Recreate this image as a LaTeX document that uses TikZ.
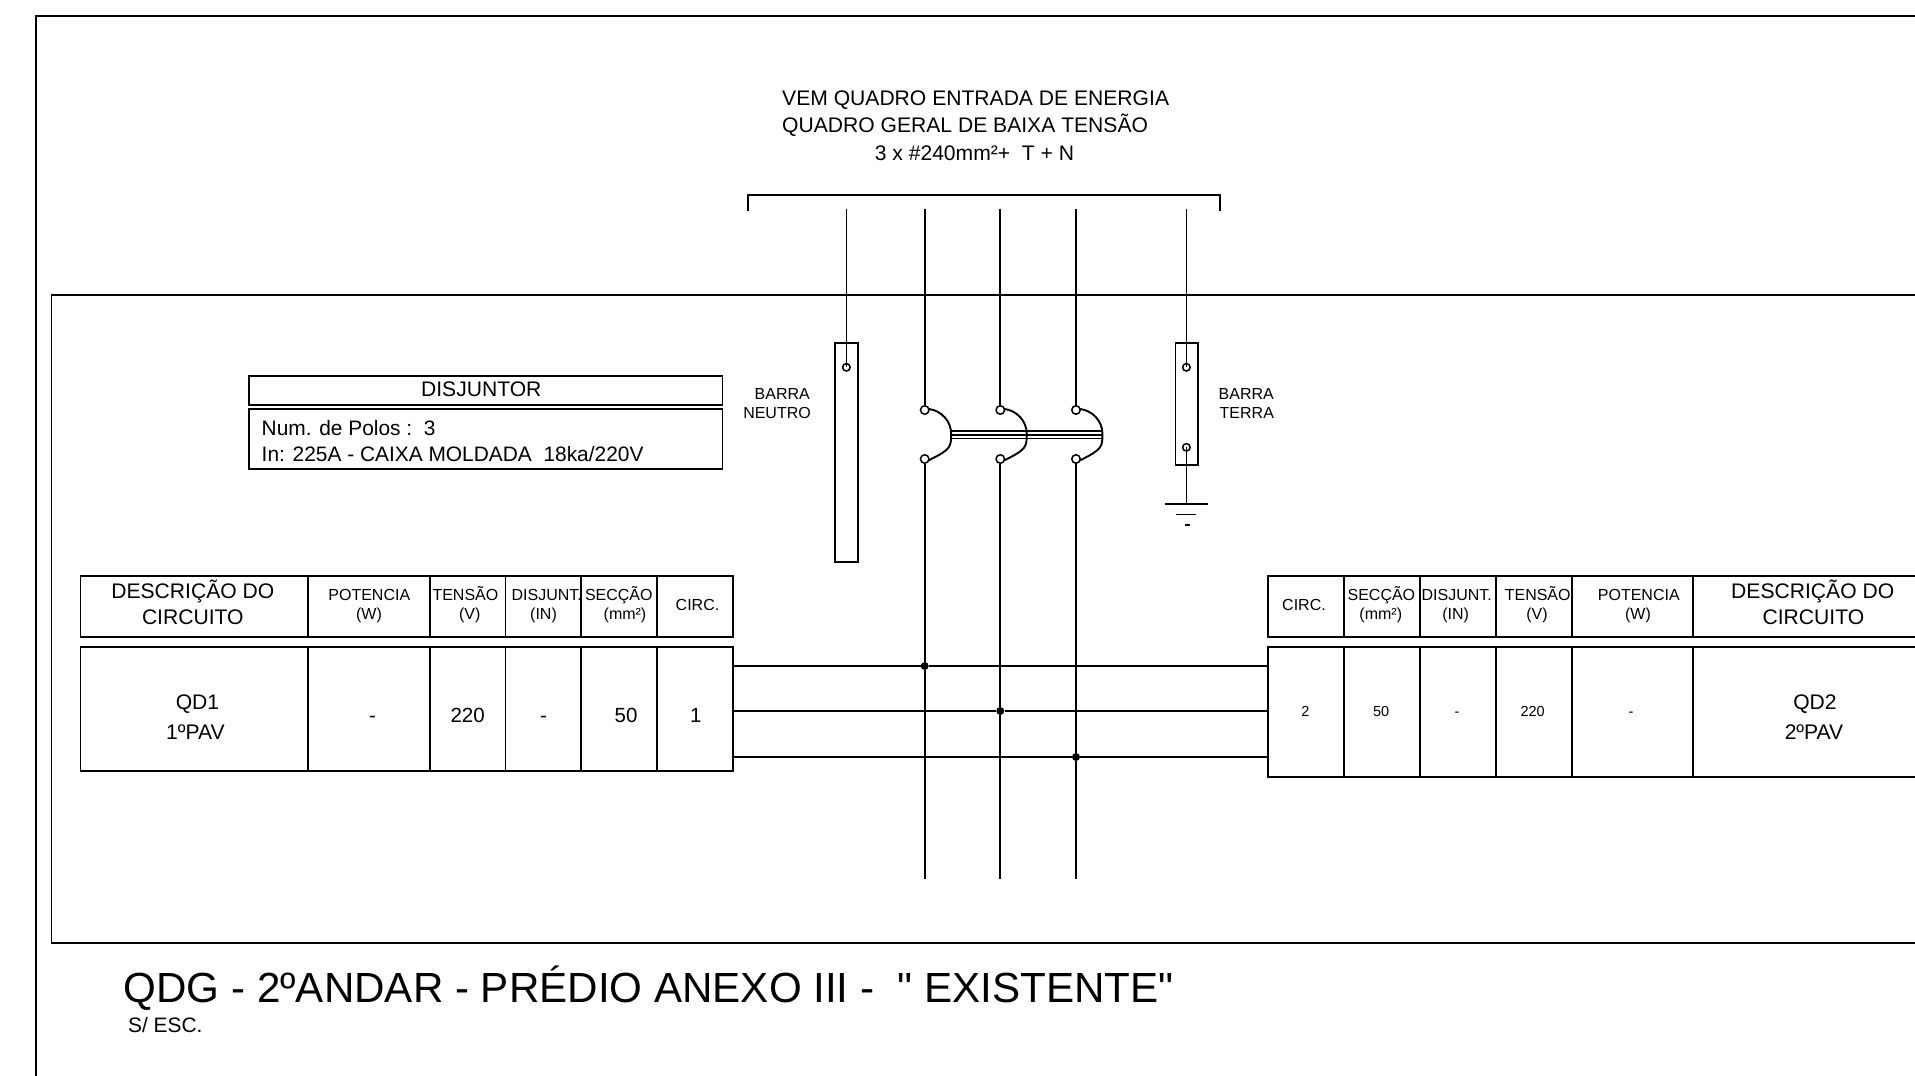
\documentclass[tikz,border=0pt]{standalone}
\usepackage{fontspec}
\setmainfont{Liberation Sans}
\newfontfamily\plainfont{Liberation Sans}
\def\polearc(#1)(#2){\draw[thickline] (#1.10) .. controls +(11,1.5) and +(0,-13) .. +(21.5,24.5) .. controls +(0,13) and +(21.5,-10.6) .. (#2.-10);}
\tikzset{
	thickline/.style={line width=1.9pt, line cap=rect},
	thinline/.style={line width=1.7pt},
	terminal/.style={circle, draw, fill=white, line width=1.5pt, inner sep=0pt, minimum size=8.5pt},
	barterminal/.style={circle, draw, line width=1.5pt, inner sep=0pt, minimum size=7.5pt},
	junction/.style={circle, fill=black, inner sep=0pt, minimum size=8pt},
	txtlarge/.style={anchor=base, inner sep=0pt, font=\fontsize{21.1}{25}\selectfont},
	txtnote/.style={anchor=base west, inner sep=0pt, font=\fontsize{20.9}{25}\selectfont},
	txtcell/.style={anchor=base, inner sep=0pt, font=\fontsize{20.5}{25}\selectfont},
	txthead/.style={anchor=base, inner sep=0pt, font=\fontsize{16}{19}\selectfont},
	txtsmall/.style={anchor=base, inner sep=0pt, font=\fontsize{14.5}{18}\selectfont},
	txtbar/.style={anchor=base, inner sep=0pt, font=\fontsize{16}{19}\selectfont}
}
\begin{document}
\begin{tikzpicture}[x=1pt, y=-1pt]
			%%%%% START %%%%%
			\useasboundingbox (0, 0) rectangle (1915, 1076);
			
			\draw[thickline] (36, 1076) -- (36, 16) -- (1915, 16);
			\draw[thickline] (1915, 295) -- (51.5, 295) -- (51.5, 943) -- (1915, 943);
			
			\node[txtlarge, anchor=base west] (lineA) at (782, 105) {VEM QUADRO ENTRADA DE ENERGIA};
			\node[txtlarge, anchor=base west] (lineB) at (782, 132.3) {QUADRO GERAL DE BAIXA TENSÃO};
			\node[txtlarge, anchor=base west] (lineC) at (874.6, 160) {3 x \#240mm²+\ \ T + N};
			\draw[thickline] (748, 210) -- (748, 195) -- (1220.4, 195) -- (1220.4, 210);
			
			\draw[thickline] (835.3, 343.3) rectangle (857.7, 562.3);
			\draw[thickline] (1175.5, 343.3) rectangle (1197.7, 465);
			\node[barterminal] (barN) at (846.4, 367.3) {};
			\node[barterminal] (barTa) at (1186.4, 367.3) {};
			\node[barterminal] (barTb) at (1186.4, 447.3) {};
			\coordinate (inN) at (846.4, 208.5);
			\coordinate (inT) at (1186.4, 208.5);
			\coordinate (gnd) at (1186.4, 504.3);
			\draw[thinline] (inN) -- (barN.center);
			\draw[thinline] (inT) -- (barTa.center);
			\draw[thinline] (barTb.center) -- (gnd);
			\draw[thickline] (1166, 504.3) -- (1206.7, 504.3);
			\draw[thickline] (1177.3, 514.5) -- (1195, 514.5);
			\draw[line width=1.9pt] (1185, 524.7) -- (1189.7, 524.7);
			
			\node[txtbar, anchor=base east] (barraA) at (810, 399) {BARRA};
			\node[txtbar, anchor=base east] (barraB) at (811, 418) {NEUTRO};
			\node[txtbar, anchor=base west] (barraC) at (1218.5, 399) {BARRA};
			\node[txtbar, anchor=base west] (barraD) at (1219.5, 418) {TERRA};
			
			\draw[thickline] (249, 375.7) rectangle (722.5, 405.3);
			\draw[thickline] (249, 409) rectangle (722.5, 469);
			\node[txtlarge] (disj) at (481.3, 396) {DISJUNTOR};
			\node[txtnote] (polos) at (261.5, 435.3) {Num. de Polos :\ \ 3};
			\node[txtnote] (caixa) at (261.5, 461.3) {In: 225A - CAIXA MOLDADA\ \ 18ka/220V};
			
			\node[terminal] (poleAa) at (924.7, 410) {};
			\node[terminal] (poleAb) at (924.7, 459) {};
			\node[terminal] (poleBa) at (1000.3, 410) {};
			\node[terminal] (poleBb) at (1000.3, 459) {};
			\node[terminal] (poleCa) at (1076, 410) {};
			\node[terminal] (poleCb) at (1076, 459) {};
			\polearc(poleAa)(poleAb)
			\polearc(poleBa)(poleBb)
			\polearc(poleCa)(poleCb)
			\draw[line width=1.2pt] (950, 431) -- (1101.7, 431);
			\draw[line width=1.2pt] (950, 435) -- (1101.7, 435);
			\draw[line width=1.2pt] (950, 438.7) -- (1101.7, 438.7);
			
			\node[junction] (busA) at (924.7, 666) {};
			\node[junction] (busB) at (1000.3, 711) {};
			\node[junction] (busC) at (1076, 757) {};
			\coordinate (inA) at (924.7, 208.5);
			\coordinate (inB) at (1000.3, 208.5);
			\coordinate (inC) at (1076, 208.5);
			\coordinate (endA) at (924.7, 878.5);
			\coordinate (endB) at (1000.3, 878.5);
			\coordinate (endC) at (1076, 878.5);
			\draw[thinline] (inA) -- (poleAa);
			\draw[thinline] (inB) -- (poleBa);
			\draw[thinline] (inC) -- (poleCa);
			\draw[thinline] (poleAb) -- (busA) -- (endA);
			\draw[thinline] (poleBb) -- (busB) -- (endB);
			\draw[thinline] (poleCb) -- (busC) -- (endC);
			\coordinate (leftA) at (733, 666);
			\coordinate (leftB) at (733, 711);
			\coordinate (leftC) at (733, 757);
			\coordinate (rightA) at (1268.4, 666);
			\coordinate (rightB) at (1268.4, 711);
			\coordinate (rightC) at (1268.4, 757);
			\draw[thinline] (leftA) -- (busA) -- (rightA);
			\draw[thinline] (leftB) -- (busB) -- (rightB);
			\draw[thinline] (leftC) -- (busC) -- (rightC);
			
			\draw[thickline] (80.5, 576) rectangle (733, 636.7);
			\draw[thickline] (80.5, 647) rectangle (733, 770.7);
			\draw[thickline] (308, 576) -- (308, 636.7);
			\draw[thickline] (429.6, 576) -- (429.6, 636.7);
			\draw[thickline] (505.5, 576) -- (505.5, 636.7);
			\draw[thickline] (581.4, 576) -- (581.4, 636.7);
			\draw[thickline] (657.3, 576) -- (657.3, 636.7);
			\draw[thickline] (308, 647) -- (308, 770.7);
			\draw[thickline] (429.6, 647) -- (429.6, 770.7);
			\draw[thickline] (505.5, 647) -- (505.5, 770.7);
			\draw[thickline] (581.4, 647) -- (581.4, 770.7);
			\draw[thickline] (657.3, 647) -- (657.3, 770.7);
			
			\node[txtlarge] (descA) at (192.8, 598.7) {DESCRIÇÃO DO};
			\node[txtlarge] (circA) at (192.8, 624.3) {CIRCUITO};
			\node[txthead] (potA) at (369.3, 600.7) {POTENCIA};
			\node[txthead] (potAu) at (369, 619.5) {(W)};
			\node[txthead] (tenA) at (465.4, 600.7) {TENSÃO};
			\node[txthead] (tenAu) at (469.8, 619.5) {(V)};
			\node[txthead] (disA) at (546.8, 600.7) {DISJUNT.};
			\node[txthead] (disAu) at (543.5, 619.5) {(IN)};
			\node[txthead] (secA) at (618.8, 600.7) {SECÇÃO};
			\node[txthead] (secAu) at (625, 619.5) {(mm²)};
			\node[txthead] (cirA) at (697.5, 610) {CIRC.};
			
			\node[txtlarge] (qdA) at (197.5, 709.5) {QD1};
			\node[txtlarge] (pavA) at (195.5, 739.5) {1ºPAV};
			\node[txtcell] (valAa) at (372.5, 722) {-};
			\node[txtcell] (valAb) at (467.6, 722) {220};
			\node[txtcell] (valAc) at (543.5, 722) {-};
			\node[txtcell] (valAd) at (626, 722) {50};
			\node[txtcell] (valAe) at (695.7, 722) {1};
			
			\draw[thickline] (1915, 575.7) -- (1268.4, 575.7) -- (1268.4, 636.7) -- (1915, 636.7);
			\draw[thickline] (1915, 647.3) -- (1268.4, 647.3) -- (1268.4, 776.7) -- (1915, 776.7);
			\draw[thickline] (1344.2, 575.7) -- (1344.2, 636.7);
			\draw[thickline] (1420, 575.7) -- (1420, 636.7);
			\draw[thickline] (1495.7, 575.7) -- (1495.7, 636.7);
			\draw[thickline] (1571.9, 575.7) -- (1571.9, 636.7);
			\draw[thickline] (1693.3, 575.7) -- (1693.3, 636.7);
			\draw[thickline] (1344.2, 647.3) -- (1344.2, 776.7);
			\draw[thickline] (1420, 647.3) -- (1420, 776.7);
			\draw[thickline] (1495.7, 647.3) -- (1495.7, 776.7);
			\draw[thickline] (1571.9, 647.3) -- (1571.9, 776.7);
			\draw[thickline] (1693.3, 647.3) -- (1693.3, 776.7);
			
			\node[txthead] (cirB) at (1304, 610) {CIRC.};
			\node[txthead] (secB) at (1381.4, 600.7) {SECÇÃO};
			\node[txthead] (secBu) at (1380.8, 619.5) {(mm²)};
			\node[txthead] (disB) at (1456.7, 600.7) {DISJUNT.};
			\node[txthead] (disBu) at (1455.7, 619.5) {(IN)};
			\node[txthead] (tenB) at (1537.7, 600.7) {TENSÃO};
			\node[txthead] (tenBu) at (1537, 619.5) {(V)};
			\node[txthead] (potB) at (1638.8, 600.7) {POTENCIA};
			\node[txthead] (potBu) at (1638, 619.5) {(W)};
			\node[txtlarge] (descB) at (1812.7, 598.7) {DESCRIÇÃO DO};
			\node[txtlarge] (circB) at (1813.4, 624) {CIRCUITO};
			
			\node[txtsmall] (valBa) at (1305.4, 716) {2};
			\node[txtsmall] (valBb) at (1381.2, 716) {50};
			\node[txtsmall] (valBc) at (1457, 716) {-};
			\node[txtsmall] (valBd) at (1532.7, 716) {220};
			\node[txtsmall] (valBe) at (1630.9, 716) {-};
			\node[txtlarge] (qdB) at (1815, 709.5) {QD2};
			\node[txtlarge] (pavB) at (1814, 739.5) {2ºPAV};
			
			\node[anchor=base west, inner sep=0pt, font=\plainfont\fontsize{42.15}{50}\selectfont] (title) at (123.5, 1002) {QDG - 2ºANDAR - PRÉDIO ANEXO III -\ \ " EXISTENTE"};
			\node[txtbar, anchor=base west, font=\fontsize{20.9}{24}\selectfont] (esc) at (128, 1032) {S/ ESC.};
			
			%%%%% END %%%%%
\end{tikzpicture}
\end{document}
